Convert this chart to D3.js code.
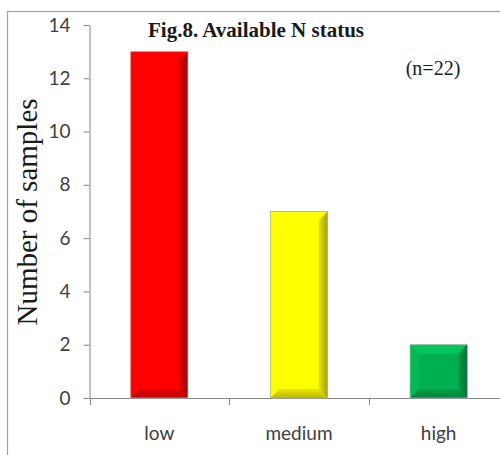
<!DOCTYPE html>
<html>
<head>
<meta charset="utf-8">
<script src="https://cdn.jsdelivr.net/npm/d3@7/dist/d3.min.js"></script>
<style>
  html, body { margin: 0; padding: 0; background: #fff; }
  svg { display: block; }
</style>
</head>
<body>
<svg id="chart" width="500" height="455"></svg>
<script>
// Available N status of soil samples
const categories = ["low", "medium", "high"];
const counts = [13, 7, 2];
const barColors = ["#ff0000", "#ffff00", "#00b050"];
const yTicks = [0, 2, 4, 6, 8, 10, 12, 14];
const titleText = "Fig.8. Available N status";
const noteText = "(n=22)";
const yLabel = "Number of samples";

const svg = d3.select("#chart");
const W = 500, H = 455;
const plot = { left: 89.5, right: 508.5, top: 25, bottom: 398 };

// Outer chart frame
svg.append("rect")
  .attr("x", 7.5).attr("y", 11.5)
  .attr("width", 520).attr("height", 470)
  .attr("fill", "#fff").attr("stroke", "#a0a0a0").attr("stroke-width", 1.2);

const x = d3.scaleBand().domain(categories).range([plot.left, plot.right]).paddingInner(0).paddingOuter(0);
const y = d3.scaleLinear().domain([0, 14]).range([plot.bottom, plot.top]);

// Y axis
const yAxis = d3.axisLeft(y).tickValues(yTicks).tickSize(6).tickPadding(13).tickSizeOuter(0);
const gy = svg.append("g").attr("transform", `translate(${plot.left},0)`).call(yAxis);
gy.select(".domain").attr("stroke", "#868686");
gy.selectAll(".tick line").attr("stroke", "#868686");
gy.selectAll(".tick text")
  .attr("fill", "#404040")
  .style("font-family", "Lato, 'Open Sans', sans-serif")
  .style("font-size", "19px");

// X axis with tick marks at category boundaries
svg.append("line")
  .attr("x1", plot.left).attr("x2", W)
  .attr("y1", plot.bottom + 0.5).attr("y2", plot.bottom + 0.5)
  .attr("stroke", "#868686");
const bounds = categories.map(c => x(c)).concat([x(categories[2]) + x.bandwidth()]);
svg.selectAll(".xb").data(bounds).enter().append("line")
  .attr("x1", d => Math.round(d) + 0.5).attr("x2", d => Math.round(d) + 0.5)
  .attr("y1", plot.bottom).attr("y2", plot.bottom + 7)
  .attr("stroke", "#868686");
svg.selectAll(".xl").data(categories).enter().append("text")
  .attr("x", d => x(d) + x.bandwidth() / 2)
  .attr("y", 440)
  .attr("text-anchor", "middle")
  .attr("fill", "#404040")
  .style("font-family", "Lato, 'Open Sans', sans-serif")
  .style("font-size", "19px")
  .text(d => d);

// Bevelled bars
const defs = svg.append("defs");
const barW = x.bandwidth() * 0.41;
const bev = 9;
categories.forEach((c, i) => {
  const col = d3.color(barColors[i]);
  const dark = col.darker(1.3);
  const gid = "rg" + i;
  const g = defs.append("linearGradient").attr("id", gid).attr("x1", 0).attr("x2", 1).attr("y1", 0).attr("y2", 0);
  g.append("stop").attr("offset", "0%").attr("stop-color", col.darker(0.3));
  g.append("stop").attr("offset", "100%").attr("stop-color", dark);
  const bg = "bg" + i;
  const g2 = defs.append("linearGradient").attr("id", bg).attr("x1", 0).attr("x2", 0).attr("y1", 0).attr("y2", 1);
  g2.append("stop").attr("offset", "0%").attr("stop-color", col.darker(0.25));
  g2.append("stop").attr("offset", "100%").attr("stop-color", col.darker(0.9));
});

const bars = svg.append("g");
categories.forEach((c, i) => {
  const cx = x(c) + x.bandwidth() / 2;
  const x0 = cx - barW / 2, x1 = cx + barW / 2;
  const y0 = y(counts[i]), y1 = y(0);
  const b = Math.min(bev, (y1 - y0) / 2);
  const col = d3.color(barColors[i]);
  const g = bars.append("g");
  g.append("rect").attr("x", x0).attr("y", y0).attr("width", x1 - x0).attr("height", y1 - y0).attr("fill", col);
  const poly = pts => pts.map(p => p.join(",")).join(" ");
  // top facet
  g.append("polygon").attr("points", poly([[x0, y0], [x1, y0], [x1 - b, y0 + b], [x0 + b, y0 + b]]))
    .attr("fill", col.brighter(0.35));
  // left facet
  g.append("polygon").attr("points", poly([[x0, y0], [x0 + b, y0 + b], [x0 + b, y1 - b], [x0, y1]]))
    .attr("fill", col.brighter(0.15));
  // right facet
  g.append("polygon").attr("points", poly([[x1, y0], [x1, y1], [x1 - b, y1 - b], [x1 - b, y0 + b]]))
    .attr("fill", `url(#rg${i})`);
  // bottom facet
  g.append("polygon").attr("points", poly([[x0, y1], [x1, y1], [x1 - b, y1 - b], [x0 + b, y1 - b]]))
    .attr("fill", `url(#bg${i})`);
  g.append("rect").attr("x", x0).attr("y", y0).attr("width", x1 - x0).attr("height", y1 - y0)
    .attr("fill", "none").attr("stroke", "#b0b0b0").attr("stroke-width", 0.8);
});

// Title, note and axis label
svg.append("text")
  .attr("x", 256).attr("y", 37)
  .attr("text-anchor", "middle")
  .style("font-family", "'Liberation Serif', 'Times New Roman', serif")
  .style("font-weight", "bold")
  .style("font-size", "21px")
  .attr("fill", "#1a1a1a")
  .text(titleText);
svg.append("text")
  .attr("x", 433).attr("y", 75)
  .attr("text-anchor", "middle")
  .style("font-family", "'Liberation Serif', 'Times New Roman', serif")
  .style("font-size", "20px")
  .attr("fill", "#1a1a2a")
  .text(noteText);
svg.append("text")
  .attr("transform", "translate(37,212) rotate(-90)")
  .attr("text-anchor", "middle")
  .style("font-family", "'Liberation Serif', 'Times New Roman', serif")
  .style("font-size", "29px")
  .attr("fill", "#1a1a1a")
  .text(yLabel);
</script>
</body>
</html>
